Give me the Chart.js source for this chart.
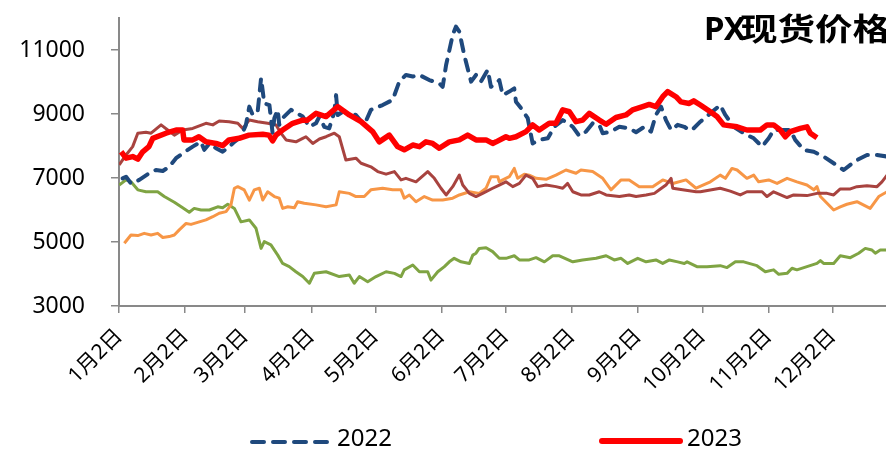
<!DOCTYPE html>
<html>
<head>
<meta charset="utf-8">
<script src="https://cdn.jsdelivr.net/npm/chart.js@4.4.1/dist/chart.umd.min.js"></script>
<style>
html,body{margin:0;padding:0;background:#ffffff;}
#wrap{width:886px;height:451px;position:relative;}
</style>
</head>
<body>
<div id="wrap"><canvas id="c"></canvas></div>
<script>
// x values are days counted from 1月2日
const tickDays = [0, 31, 59, 90, 120, 151, 181, 212, 243, 273, 304, 334];
const tickLabels = ['1月2日','2月2日','3月2日','4月2日','5月2日','6月2日','7月2日','8月2日','9月2日','10月2日','11月2日','12月2日'];
const yTickValues = [3000, 5000, 7000, 9000, 11000];
const titleLatin = 'PX';
const titleCjk = '现货价格';
const legendNames = ['2022', '2023'];

const s2023 = [[1,7820],[3.3,7620],[6.4,7670],[8.8,7590],[11.1,7820],[14,7980],[15.8,8240],[22,8400],[26.7,8500],[29.8,8500],[30.4,8190],[34.5,8190],[37.4,8290],[40.7,8130],[45.4,8080],[48.5,8010],[51.5,8190],[56.2,8240],[60.8,8340],[67.3,8370],[70.2,8340],[71.9,8160],[73.5,8340],[76.6,8500],[81.3,8710],[86,8810],[88,8800],[92.2,9020],[96.9,8920],[102.4,9230],[107.8,8970],[113.3,8760],[118.7,8450],[121.8,8130],[126.5,8340],[130.4,7980],[133.5,7880],[137.5,8030],[140.6,7980],[143.7,8130],[146.8,8080],[149.9,7930],[154.6,8130],[159.3,8190],[163.2,8340],[167.1,8190],[171.8,8190],[174.9,8080],[176.5,8130],[181.1,8290],[182.7,8240],[185.8,8290],[190.5,8450],[193.6,8660],[196.7,8500],[201.4,8710],[204.5,8710],[207.7,9130],[210.8,9070],[213.9,8760],[217,8810],[220.1,9020],[224.8,8810],[228,8680],[232.6,8890],[237.3,8970],[240.4,9130],[245.1,9230],[248.2,9300],[251.3,9230],[254.5,9540],[256.8,9700],[260.7,9540],[263,9380],[266.9,9330],[269,9410],[272.1,9280],[276.8,9070],[279.9,8920],[283,8660],[289.3,8600],[293.9,8500],[300.2,8500],[303.3,8660],[306.4,8660],[309.5,8500],[311.9,8290],[314.2,8450],[318.9,8550],[322,8600],[323.6,8400],[326.7,8260]];

const s2022 = [[1.7,6990],[3.3,7040],[5.6,6830],[9.5,6940],[14.2,7150],[17.3,7250],[20.5,7220],[23.5,7350],[26.7,7620],[29.8,7770],[34.5,7980],[38.4,8130],[39.9,7880],[42.3,8080],[45.4,7930],[48.5,7820],[51.6,7980],[54,8130],[57.1,8290],[59.4,8660],[61,9230],[62.6,8970],[64.9,9070],[66.5,10120],[67.3,9700],[68,9330],[70.4,9280],[71.9,8400],[72.7,8870],[74.3,9130],[75,8660],[76.6,8870],[80.5,9130],[86,8920],[89.1,8600],[92.2,8710],[93.8,8920],[96.1,8600],[98.4,8550],[100.8,9070],[101.6,9590],[102.4,8970],[104.7,9070],[107.8,9020],[110.9,8970],[114.8,8660],[117.9,9130],[123.4,9280],[128.1,9440],[131.2,10010],[134.3,10220],[137.5,10170],[140.6,10220],[145.2,10060],[149.9,9960],[151.5,9850],[153.1,10530],[156.2,11470],[157.7,11730],[159.3,11570],[161.6,10840],[164.8,10010],[167.1,10220],[169.4,10010],[172.6,10380],[174.1,9850],[177.3,10010],[178,10060],[179.6,9590],[182.7,9700],[185,9800],[185.8,9380],[188.2,9180],[191.3,8870],[193.6,8080],[196.7,8190],[200.7,8240],[203.7,8600],[207.7,8810],[212.4,8600],[215.4,8320],[218.6,8450],[221.7,8710],[224.8,8660],[226.4,8400],[230.3,8450],[234.2,8600],[238.8,8550],[242,8430],[245.9,8600],[249,8450],[251.3,8970],[253.7,9230],[256,8810],[258.4,8500],[261.5,8660],[264.6,8600],[266.9,8500],[268.2,8500],[272.1,8760],[276.8,9020],[281.4,9280],[283.8,8970],[287.7,8600],[292.4,8400],[297.1,8240],[301,7980],[304.1,8240],[306.4,8500],[311.1,8500],[314.2,8500],[316.5,8190],[320.5,7880],[325.2,7820],[329.8,7670],[334.5,7460],[339.2,7250],[342.3,7410],[345.4,7560],[350.1,7720],[354.8,7720],[359.5,7670]];

const seriesBrown = [[0.1,7410],[3.3,7720],[6.4,7980],[8.8,8400],[12.6,8430],[15,8400],[19.7,8660],[22.8,8500],[25.9,8340],[29.8,8500],[34.5,8550],[40.7,8710],[43.9,8660],[46.9,8780],[51.6,8760],[55.6,8710],[57.9,8550],[61,8810],[64.9,8760],[69.6,8710],[73.5,8660],[75.8,8400],[78.2,8190],[82.8,8130],[86,8240],[87.5,8290],[90.7,8080],[93.8,8220],[96.9,8290],[100.8,8400],[103.1,8290],[106.2,7560],[110.9,7620],[113.3,7460],[117.9,7350],[121.1,7200],[125,7120],[128.9,7200],[132,6940],[134.3,6990],[139,6880],[144.5,7200],[147.6,6990],[150.7,6680],[153.1,6470],[156.2,6730],[159.3,7090],[160.9,6780],[164,6520],[167.1,6420],[170.2,6520],[174.9,6680],[178,6780],[181.1,6880],[184.3,6730],[187.4,6830],[190.5,7090],[193.6,6990],[196,6730],[199.9,6780],[204.5,6730],[207.7,6680],[210,6830],[212.4,6570],[216.2,6470],[220.1,6470],[224.8,6570],[228,6470],[234.2,6420],[238.8,6470],[242,6420],[246.7,6470],[250.6,6520],[252.9,6630],[256,6780],[258.4,6990],[259.2,6680],[263.8,6630],[270.1,6570],[272.1,6570],[281.4,6680],[286.1,6590],[290.8,6470],[293.9,6570],[301,6570],[303.3,6420],[306.4,6570],[312.7,6390],[315.8,6470],[322,6450],[326.7,6520],[331.4,6520],[334.5,6470],[337.6,6660],[342.3,6660],[345.4,6730],[350.1,6760],[354.8,6730],[357.1,6880],[359.5,7090]];

const seriesOrange = [[2.5,4960],[5.6,5220],[8.8,5200],[11.8,5270],[15,5220],[18.1,5270],[20.5,5140],[23.5,5170],[25.9,5220],[28.2,5380],[31.4,5580],[33.7,5550],[37.6,5630],[40.7,5690],[43.9,5790],[46.9,5900],[50.1,5950],[52.4,6160],[54,6680],[55.6,6730],[58.6,6630],[61,6310],[63.3,6630],[65.7,6680],[67.3,6310],[69.6,6570],[72.7,6420],[75,6370],[76.6,6050],[79,6100],[82.1,6070],[83.6,6260],[86.7,6210],[92.2,6160],[96.9,6100],[101.6,6160],[103.1,6570],[107.8,6520],[110.9,6420],[114.8,6420],[117.9,6630],[123.4,6680],[128.1,6630],[132,6630],[133.5,6370],[135.9,6470],[139,6260],[142.9,6420],[146.8,6310],[151.5,6310],[156.2,6370],[159.3,6470],[164,6570],[168.6,6520],[171.8,6680],[174.1,7040],[177.3,7040],[178,6880],[179.6,6940],[182.7,7040],[185,7300],[186.6,6990],[189.7,7120],[192,7090],[195.2,6990],[199.9,6960],[204.5,7090],[209.2,7250],[213.9,7150],[216.2,7250],[221.7,7200],[226.4,6990],[230.3,6630],[235,6940],[238.8,6940],[243.5,6730],[249.8,6730],[254.5,6940],[259.2,6830],[265.4,6940],[270.1,6680],[276.8,6880],[281.4,7090],[283.8,6990],[286.9,7300],[289.3,7250],[293.9,6990],[297.1,7090],[299.4,6880],[304.1,6940],[308,6830],[312.7,6990],[317.3,6880],[322,6780],[325.2,6630],[326.7,6730],[328.3,6420],[331.4,6210],[334.5,6000],[337.6,6100],[340.7,6180],[345.4,6260],[351.6,6050],[355.6,6420],[359.5,6570]];

const seriesGreen = [[0.1,6780],[3.3,6940],[5.6,6880],[8.8,6630],[12.6,6570],[18.1,6570],[21.2,6420],[25.9,6240],[29.8,6070],[32.9,5930],[35.2,6050],[38.4,6000],[42.3,6000],[46.2,6100],[48.5,6070],[50.9,6180],[54,6050],[57.1,5630],[61,5690],[64.1,5430],[66.5,4800],[68,5010],[71.1,4910],[74.3,4590],[76.6,4330],[79.7,4230],[82.8,4070],[86,3920],[89.1,3710],[91.4,4020],[96.9,4070],[103.1,3920],[107.8,3970],[110.1,3710],[112.5,3920],[116.4,3760],[120.3,3920],[125,4070],[128.9,4020],[132,3920],[133.5,4130],[137.5,4280],[140.6,4070],[144.5,4070],[146,3810],[149.2,4070],[152.3,4230],[154.6,4380],[156.9,4490],[160.1,4380],[164,4330],[165.6,4590],[167.1,4650],[168.6,4800],[171.8,4820],[174.9,4700],[178,4490],[181.1,4490],[185,4570],[187.4,4440],[192,4440],[195.2,4510],[199.1,4380],[203,4570],[206.1,4570],[212.4,4380],[217,4440],[223.3,4490],[228,4570],[231.8,4440],[235,4490],[238.1,4330],[242.8,4490],[246.7,4380],[251.3,4440],[254.5,4330],[257.6,4440],[261.5,4380],[264.6,4330],[265.9,4380],[270.5,4230],[275.2,4230],[281.4,4260],[284.6,4200],[288.5,4380],[292.4,4380],[298.6,4260],[302.5,4070],[306.4,4130],[308.8,3990],[312.7,4020],[315,4180],[317.3,4130],[322,4230],[326.7,4330],[328.3,4420],[329.8,4330],[334.5,4330],[337.6,4570],[342.3,4510],[346.2,4650],[349.3,4800],[352.4,4750],[354,4650],[356.3,4750],[359.5,4750]];

const toXY = s => s.map(p => ({x: p[0], y: p[1]}));

const COLORS = {c2022:'#1F497D', c2023:'#FF0000', brown:'#A8433F', orange:'#F79646', green:'#7FA443'};

const overlay = {
  id: 'overlay',
  afterDraw(chart) {
    const ctx = chart.ctx;
    ctx.save();
    // title
    ctx.fillStyle = '#000';
    ctx.textBaseline = 'alphabetic';
    ctx.textAlign = 'left';
    ctx.font = 'bold 33px "Noto Sans", "Noto Sans CJK SC"';
    ctx.fillText(titleLatin, 704, 40);
    ctx.save();
    ctx.translate(740, 40);
    ctx.scale(1.21, 1);
    ctx.font = 'bold 31px "Noto Sans CJK SC"';
    ctx.fillText(titleCjk, 0, 0);
    ctx.restore();
    // legend
    ctx.lineCap = 'round';
    ctx.strokeStyle = COLORS.c2022;
    ctx.lineWidth = 4;
    ctx.setLineDash([12, 9]);
    ctx.beginPath(); ctx.moveTo(252, 442); ctx.lineTo(330, 442); ctx.stroke();
    ctx.setLineDash([]);
    ctx.strokeStyle = COLORS.c2023;
    ctx.lineWidth = 6;
    ctx.beginPath(); ctx.moveTo(602, 441); ctx.lineTo(680, 441); ctx.stroke();
    ctx.fillStyle = '#000';
    ctx.font = '24px "Noto Sans"';
    ctx.textBaseline = 'middle';
    ctx.fillText(legendNames[0], 337, 439);
    ctx.fillText(legendNames[1], 687, 439);
    ctx.restore();
  }
};

const axisColor = '#898989';
new Chart(document.getElementById('c'), {
  type: 'line',
  data: {
    datasets: [
      {label: '2023', data: toXY(s2023), borderColor: COLORS.c2023, borderWidth: 5.5, order: 0},
      {label: '2022', data: toXY(s2022), borderColor: COLORS.c2022, borderWidth: 4, borderDash: [11, 9], borderCapStyle: 'round', order: 1},
      {label: 'A', data: toXY(seriesBrown), borderColor: COLORS.brown, borderWidth: 3, order: 2},
      {label: 'B', data: toXY(seriesOrange), borderColor: COLORS.orange, borderWidth: 3, order: 3},
      {label: 'C', data: toXY(seriesGreen), borderColor: COLORS.green, borderWidth: 3, order: 4}
    ]
  },
  options: {
    responsive: true,
    maintainAspectRatio: false,
    animation: false,
    layout: {padding: {top: 18, right: 0, left: 0, bottom: 0}},
    elements: {point: {radius: 0}, line: {tension: 0, borderJoinStyle: 'round', fill: false}},
    plugins: {legend: {display: false}, title: {display: false}, tooltip: {enabled: false}},
    scales: {
      x: {
        type: 'linear', min: 0, max: 359,
        afterBuildTicks: s => { s.ticks = tickDays.map(v => ({value: v})); },
        afterFit: s => { s.height = 145; s.paddingLeft = 0; s.paddingRight = 0; },
        ticks: {
          autoSkip: false, minRotation: 45, maxRotation: 45, padding: 11, color: '#000',
          font: {family: '"Noto Sans", "Noto Sans CJK SC"', size: 21},
          callback: v => { const i = tickDays.indexOf(v); return i >= 0 ? tickLabels[i] : ''; }
        },
        grid: {display: true, drawOnChartArea: false, drawTicks: true, tickLength: 7, color: axisColor, lineWidth: 1.5},
        border: {display: true, color: axisColor, width: 2}
      },
      y: {
        type: 'linear', min: 3000, max: 12000,
        afterBuildTicks: s => { s.ticks = yTickValues.map(v => ({value: v})); },
        afterFit: s => { s.width = 119; s.paddingTop = 0; s.paddingBottom = 0; },
        ticks: {padding: 26, color: '#000', font: {family: '"Noto Sans"', size: 23}, callback: v => String(v)},
        grid: {display: true, drawOnChartArea: false, drawTicks: true, tickLength: 8, color: axisColor, lineWidth: 1.5},
        border: {display: true, color: axisColor, width: 2}
      }
    }
  },
  plugins: [overlay]
});
</script>
</body>
</html>
